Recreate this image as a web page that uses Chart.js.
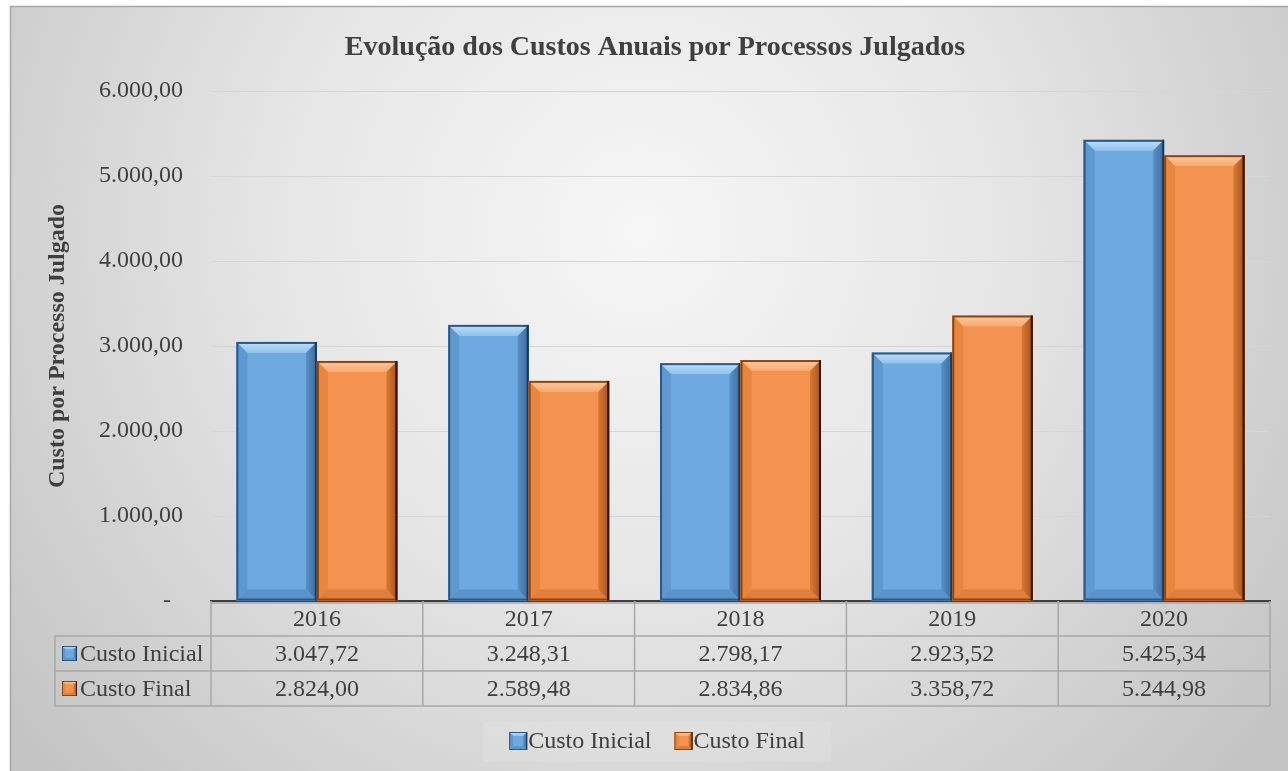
<!DOCTYPE html>
<html><head><meta charset="utf-8">
<script src="https://cdn.jsdelivr.net/npm/chart.js@4.4.0/dist/chart.umd.min.js"></script>
<style>html,body{margin:0;padding:0;background:#fff;overflow:hidden}canvas{display:block}</style>
</head><body>
<canvas id="c" width="1288" height="771"></canvas>
<script>
// ---- data ----
const categories = ['2016', '2017', '2018', '2019', '2020'];
const custoInicial = [3047.72, 3248.31, 2798.17, 2923.52, 5425.34];
const custoFinal = [2824.00, 2589.48, 2834.86, 3358.72, 5244.98];
const seriesNames = ['Custo Inicial', 'Custo Final'];
const yTickValues = [0, 1000, 2000, 3000, 4000, 5000, 6000];
const chartTitle = 'Evolução dos Custos Anuais por Processos Julgados';
const yAxisTitle = 'Custo por Processo Julgado';

// ---- styles ----
const FONT = "'Liberation Serif','Times New Roman',serif";
const TXT = '#404040';
const PAL = [
  {face:'#6eaadf', top1:'#bfe0f8', top2:'#8fc2ec', left:'#5f99d0', right1:'#5a90c6', right2:'#3a6ca0', bottom:'#5b94cb', border:'#2b5986', borderR:'#1b3b5c'},
  {face:'#f4924f', top1:'#fdcaa0', top2:'#f8a96e', left:'#e8853f', right1:'#d97a36', right2:'#a5521b', bottom:'#df7f3b', border:'#8e450f', borderR:'#2e1504'}
];

function fmt(v) {
  const s = Math.abs(v).toFixed(2).split('.');
  const i = s[0].replace(/\B(?=(\d{3})+(?!\d))/g, '.');
  return (v < 0 ? '-' : '') + i + ',' + s[1];
}

function poly(ctx, pts, fill) {
  ctx.beginPath(); ctx.moveTo(pts[0], pts[1]);
  for (let i = 2; i < pts.length; i += 2) ctx.lineTo(pts[i], pts[i + 1]);
  ctx.closePath(); ctx.fillStyle = fill; ctx.fill();
}
function bevelBox(ctx, L, T, R, B, p, b, bw) {
  ctx.save();
  ctx.fillStyle = p.face; ctx.fillRect(L, T, R - L, B - T);
  const gt = ctx.createLinearGradient(0, T, 0, T + b);
  gt.addColorStop(0, p.top1); gt.addColorStop(1, p.top2);
  poly(ctx, [L, T, R, T, R - b, T + b, L + b, T + b], gt);
  poly(ctx, [L, B, R, B, R - b, B - b, L + b, B - b], p.bottom);
  poly(ctx, [L, T, L + b, T + b, L + b, B - b, L, B], p.left);
  const gr = ctx.createLinearGradient(R - b, 0, R, 0);
  gr.addColorStop(0, p.right1); gr.addColorStop(1, p.right2);
  poly(ctx, [R, T, R - b, T + b, R - b, B - b, R, B], gr);
  ctx.lineWidth = bw; ctx.strokeStyle = p.border;
  ctx.strokeRect(L + bw / 2, T + bw / 2, R - L - bw, B - T - bw);
  ctx.beginPath(); ctx.moveTo(R - bw / 2, T); ctx.lineTo(R - bw / 2, B);
  ctx.strokeStyle = p.borderR; ctx.stroke();
  ctx.restore();
}

const backgroundPlugin = {
  id: 'bg',
  beforeDraw(chart) {
    const ctx = chart.ctx, W = chart.width, H = chart.height;
    ctx.save();
    ctx.fillStyle = '#ffffff'; ctx.fillRect(0, 0, W, H);
    const g = ctx.createRadialGradient(640, 230, 0, 640, 230, 800);
    g.addColorStop(0, '#f6f6f6'); g.addColorStop(0.45, '#e6e6e6'); g.addColorStop(1, '#c4c4c4');
    ctx.fillStyle = g; ctx.fillRect(10, 6, W - 10, H - 6);
    ctx.strokeStyle = '#a6a6a6'; ctx.lineWidth = 1.5;
    ctx.beginPath(); ctx.moveTo(10.5, H); ctx.lineTo(10.5, 6.5); ctx.lineTo(W, 6.5); ctx.stroke();
    ctx.restore();
  },
  afterLayout(chart) {
    if (chart.titleBlock) chart.titleBlock.left += 30;
  }
};

const bevelPlugin = {
  id: 'bevel',
  afterDatasetsDraw(chart) {
    const ctx = chart.ctx;
    chart.data.datasets.forEach((ds, di) => {
      const meta = chart.getDatasetMeta(di);
      meta.data.forEach(el => {
        const {x, y, base, width} = el.getProps(['x', 'y', 'base', 'width'], true);
        const L = x - width / 2, R = x + width / 2;
        const T = Math.min(y, base), B = Math.max(y, base);
        bevelBox(ctx, L, T, R, B, PAL[di], Math.min(11, (B - T) / 2), 2);
      });
    });
  }
};

function drawIcon(ctx, x, y, s, p) {
  bevelBox(ctx, x, y, x + s, y + s, p, Math.max(2, s * 0.22), 1);
}

const tablePlugin = {
  id: 'dataTable',
  afterDraw(chart) {
    const ctx = chart.ctx, xs = chart.scales.x, area = chart.chartArea;
    const n = categories.length, colW = (xs.right - xs.left) / n;
    const rowTop = [area.bottom, 636, 671, 706];
    const leftX = 55;
    const rows = [custoInicial, custoFinal];
    ctx.save();
    ctx.strokeStyle = '#a8a8a8'; ctx.lineWidth = 1.5;
    ctx.beginPath();
    ctx.moveTo(xs.left, 603); ctx.lineTo(xs.right, 603);
    for (let r = 1; r < 4; r++) { ctx.moveTo(leftX, rowTop[r]); ctx.lineTo(xs.right, rowTop[r]); }
    for (let i = 0; i <= n; i++) {
      const bx = xs.left + i * colW;
      ctx.moveTo(bx, area.bottom); ctx.lineTo(bx, rowTop[3]);
    }
    ctx.moveTo(leftX, rowTop[1]); ctx.lineTo(leftX, rowTop[3]);
    ctx.stroke();
    ctx.fillStyle = TXT; ctx.font = '24px ' + FONT;
    ctx.textAlign = 'center'; ctx.textBaseline = 'middle';
    categories.forEach((c, i) => {
      const cx = xs.getPixelForTick(i);
      ctx.fillText(c, cx, (rowTop[0] + rowTop[1]) / 2 + 1);
      rows.forEach((arr, r) => {
        ctx.fillText(fmt(arr[i]), cx, (rowTop[r + 1] + rowTop[r + 2]) / 2 + 1);
      });
    });
    ctx.textAlign = 'left';
    seriesNames.forEach((nm, r) => {
      const cy = (rowTop[r + 1] + rowTop[r + 2]) / 2;
      drawIcon(ctx, 62, cy - 7.5, 15, PAL[r]);
      ctx.fillStyle = TXT;
      ctx.fillText(nm, 80, cy + 1);
    });
    // legend
    ctx.font = '24px ' + FONT;
    const ws = seriesNames.map(s => ctx.measureText(s).width);
    const icon = 18, gap = 1, sep = 23;
    const total = ws.reduce((a, w) => a + icon + gap + w, 0) + sep * (ws.length - 1);
    let lx = 657 - total / 2;
    const ly = 741;
    ctx.fillStyle = 'rgba(255,255,255,0.12)';
    ctx.fillRect(lx - 26, 722, total + 52, 40);
    seriesNames.forEach((nm, r) => {
      drawIcon(ctx, lx, ly - icon / 2, icon, PAL[r]);
      ctx.fillStyle = TXT;
      ctx.fillText(nm, lx + icon + gap, ly + 1);
      lx += icon + gap + ws[r] + sep;
    });
    ctx.restore();
  }
};

new Chart(document.getElementById('c'), {
  type: 'bar',
  data: {
    labels: categories,
    datasets: [
      {label: seriesNames[0], data: custoInicial, backgroundColor: PAL[0].face, borderWidth: 0},
      {label: seriesNames[1], data: custoFinal, backgroundColor: PAL[1].face, borderWidth: 0}
    ]
  },
  options: {
    responsive: false,
    devicePixelRatio: 1,
    animation: false,
    layout: {padding: {left: 10, top: 6, right: 18, bottom: 65}},
    datasets: {bar: {categoryPercentage: 0.76, barPercentage: 1.0}},
    plugins: {
      legend: {display: false},
      tooltip: {enabled: false},
      title: {
        display: true, text: chartTitle, color: TXT,
        font: {family: FONT, size: 28, weight: 'bold'},
        padding: {top: 25, bottom: 26.4}
      }
    },
    scales: {
      x: {
        type: 'category',
        grid: {display: false},
        border: {display: true, color: '#404040', width: 2},
        ticks: {display: false},
        afterFit(s) { s.height = 105; }
      },
      y: {
        min: 0, max: 6000,
        afterBuildTicks(s) { s.ticks = yTickValues.map(v => ({value: v})); },
        afterFit(s) { s.width = 201; },
        grid: {color: '#d6d6d6', lineWidth: 1, drawTicks: false},
        border: {display: false},
        ticks: {
          padding: 28, color: TXT,
          font: {family: FONT, size: 24},
          callback: v => v === 0 ? '-  ' : fmt(v)
        },
        title: {
          display: true, text: yAxisTitle, color: TXT,
          font: {family: FONT, size: 24, weight: 'bold'},
          padding: {top: 33.5, bottom: 0}
        }
      }
    }
  },
  plugins: [backgroundPlugin, bevelPlugin, tablePlugin]
});
</script>
</body></html>
